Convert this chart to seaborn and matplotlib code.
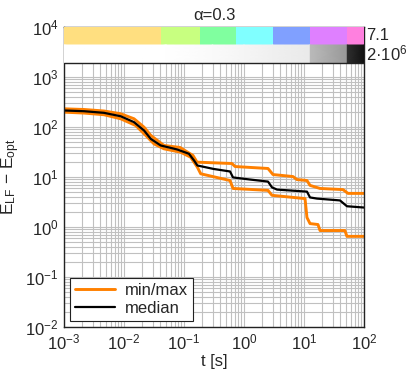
import numpy as np
import matplotlib
matplotlib.use("Agg")
import matplotlib.pyplot as plt
import seaborn as sns
from matplotlib.colors import ListedColormap, LinearSegmentedColormap
from matplotlib.ticker import LogLocator, NullFormatter, LogFormatterSciNotation

# ---------------- data ----------------
t_med = [0.001, 0.00215, 0.00464, 0.00881, 0.0147, 0.0216, 0.0279, 0.0409, 0.0773, 0.121,
         0.147, 0.167, 0.310, 0.585, 0.656, 1.26, 2.51, 2.93, 3.55, 11.2, 12.6,
         16.5, 39.8, 52, 100]
e_med = [214, 207, 192, 164, 125, 85, 58, 42.7, 35.5, 29.1,
         21.4, 17, 14.5, 12.9, 9.8, 8.9, 8.1, 6.2, 5.6, 5.1, 3.9,
         3.7, 3.4, 2.6, 2.45]

t_max = [0.001, 0.00215, 0.00464, 0.00881, 0.0147, 0.0216, 0.0279, 0.0464, 0.0857, 0.141, 0.165,
         0.63, 0.71, 2.51, 3.04, 6.56, 7.6, 11.2, 12.6, 18.5, 44.7, 54, 100]
e_max = [231, 224, 209, 184, 146, 99, 68, 42.7, 39, 27, 19.8,
         18.6, 16.2, 14.8, 11.2, 10.2, 8.9, 8.5, 6.8, 5.9, 5.6, 4.7, 4.7]

t_min = [0.001, 0.00215, 0.00464, 0.00881, 0.0157, 0.023, 0.0316, 0.0464, 0.0881, 0.129, 0.167, 0.19,
         0.585, 0.656, 2.51, 2.93, 10.4, 11.2, 12.6, 17.1, 18.5, 48, 52, 100]
e_min = [198, 190, 176, 146, 107, 68, 46, 36.6, 31.3, 24.9, 15.7, 11.6,
         8.5, 5.9, 5.4, 4.3, 3.7, 1.55, 1.17, 1.12, 0.85, 0.85, 0.65, 0.65]

# phase strip (colour) and density strip (grey)
phase_edges = [0.001, 0.041, 0.185, 0.735, 3.04, 12.6, 52, 100]
phase_colors = ['#FFDF80', '#C8FF80', '#80FF9F', '#80FFFF', '#80A0FF', '#DF80FF', '#FF80DF']
grey_t = [0.001, 0.05, 0.3, 1, 3, 12.4, 12.8, 51, 53, 100]
grey_v = [0.0, 0.0, 0.02, 0.04, 0.06, 0.085, 0.27, 0.40, 0.82, 0.93]

x_ticks = [1e-3, 1e-2, 1e-1, 1e0, 1e1, 1e2]
y_ticks = [1e-2, 1e-1, 1e0, 1e1, 1e2, 1e3, 1e4]

# ---------------- style ----------------
sns.set_style("white")
plt.rcParams['font.family'] = ['Liberation Sans', 'DejaVu Sans']
plt.rcParams['mathtext.default'] = 'regular'
plt.rcParams['font.size'] = 12
plt.rcParams['axes.unicode_minus'] = True

fig = plt.figure(figsize=(4.07, 3.74), dpi=100)
ax = fig.add_axes([64/407, 47/374, 300/407, 300/374])

ax.set_xscale('log')
ax.set_yscale('log')
ax.set_xlim(1e-3, 1e2)
ax.set_ylim(1e-2, 1e4)

# lines
sns.lineplot(x=t_max, y=e_max, ax=ax, color='#FF8000', lw=2.1, label='min/max',
             estimator=None, sort=False)
sns.lineplot(x=t_min, y=e_min, ax=ax, color='#FF8000', lw=2.1,
             estimator=None, sort=False)
sns.lineplot(x=t_med, y=e_med, ax=ax, color='black', lw=1.6, label='median',
             estimator=None, sort=False)

# strips
y_top = 1e4
y_mid = 10**3.64
y_bot = 10**3.29
ax.pcolormesh(phase_edges, [y_mid, y_top], np.arange(len(phase_colors))[None, :],
              cmap=ListedColormap(phase_colors), vmin=-0.5, vmax=len(phase_colors)-0.5,
              zorder=3, shading='flat')
greys = LinearSegmentedColormap.from_list('wk', ['#ffffff', '#000000'])
gx = np.vstack([grey_t, grey_t])
gy = np.vstack([np.full(len(grey_t), y_bot), np.full(len(grey_t), y_mid)])
gc = np.vstack([grey_v, grey_v])
ax.pcolormesh(gx, gy, gc, cmap=greys, vmin=0, vmax=1, zorder=3, shading='gouraud')
ax.axhline(y_bot, color='#222222', lw=1.0, zorder=4)

ax.text(1.006, (np.log10(y_mid) + 4) / 2 / 6 + 2/6, '7.1', transform=ax.transAxes,
        ha='left', va='center', fontsize=12)
ax.text(1.006, (np.log10(y_mid) + np.log10(y_bot)) / 2 / 6 + 2/6, r'2·10$^{6}$',
        transform=ax.transAxes, ha='left', va='center', fontsize=12)

# ticks and grid
ax.set_xticks(x_ticks)
ax.set_yticks(y_ticks)
ax.xaxis.set_major_formatter(LogFormatterSciNotation())
ax.yaxis.set_major_formatter(LogFormatterSciNotation())
ax.xaxis.set_minor_locator(LogLocator(base=10, subs=np.arange(2, 10), numticks=30))
ax.yaxis.set_minor_locator(LogLocator(base=10, subs=np.arange(2, 10), numticks=30))
ax.xaxis.set_minor_formatter(NullFormatter())
ax.yaxis.set_minor_formatter(NullFormatter())
ax.tick_params(which='both', direction='in', labelsize=12)
ax.tick_params(which='major', length=4, width=0.6, pad=4)
ax.tick_params(which='minor', length=2, width=0.5)
ax.set_axisbelow(True)
ax.grid(True, which='both', color='#c0c0c0', lw=0.8)

for s in ax.spines.values():
    s.set_color('#222222')
    s.set_linewidth(1.0)

ax.set_xlabel('t [s]', fontsize=12, labelpad=1)
ax.set_ylabel('E$_{LF}$ − E$_{opt}$', fontsize=12.5, labelpad=2)
ax.set_title('α=0.3', fontsize=12, pad=5)

leg = ax.legend(loc='lower left', fontsize=12, frameon=True, fancybox=False,
                borderaxespad=0.35, handlelength=2.4, borderpad=0.3, labelspacing=0.2,
                handletextpad=0.6)
leg.get_frame().set_edgecolor('#222222')
leg.get_frame().set_linewidth(0.8)
leg.get_frame().set_alpha(1)

fig.savefig('out.png', dpi=100)
